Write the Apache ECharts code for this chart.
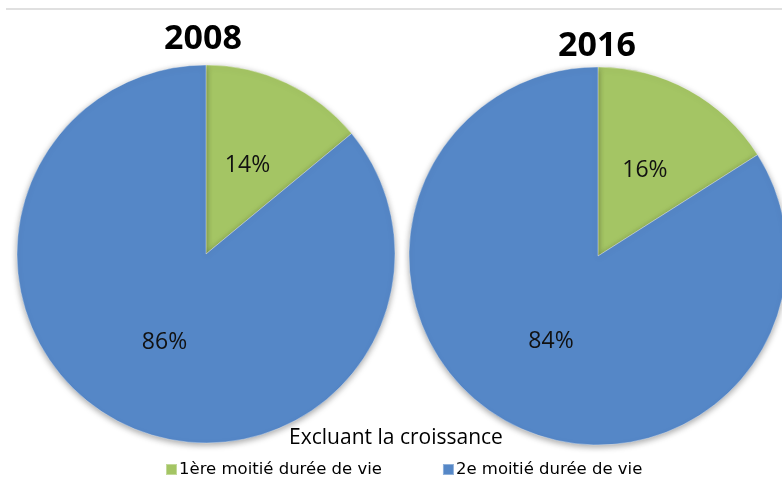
<!DOCTYPE html>
<html>
<head>
<meta charset="utf-8">
<script src="https://cdn.jsdelivr.net/npm/echarts@6/dist/echarts.min.js"></script>
<style>
  html, body { margin: 0; padding: 0; background: #fff; }
  #chart { width: 782px; height: 487px; }
</style>
</head>
<body>
<div id="chart"></div>
<script>
// données
const categories = ["1ère moitié durée de vie", "2e moitié durée de vie"];
const years = ["2008", "2016"];
const values2008 = [14, 86];
const values2016 = [16, 84];
const colors = ["#a4c564", "#5587c7"];

const chart = echarts.init(document.getElementById("chart"));

const pieSeries = (name, values, center) => ({
  name: name,
  type: "pie",
  center: center,
  radius: 189,
  startAngle: 90,
  clockwise: true,
  animation: false,
  label: {
    show: true,
    position: "inside",
    formatter: "{c}%",
    color: "#111",
    fontSize: 23,
    fontFamily: "Open Sans",
  },
  labelLine: { show: false },
  itemStyle: {
    borderColor: "rgba(255,255,255,0.35)",
    borderWidth: 1,
    shadowBlur: 6,
    shadowColor: "rgba(0,0,0,0.35)",
    shadowOffsetY: 2,
  },
  emphasis: { disabled: true },
  data: values.map((v, i) => ({ name: categories[i], value: v })),
});

const option = {
  backgroundColor: "#fff",
  color: colors,
  title: [
    {
      text: years[0],
      left: 203, top: 22,
      padding: 0,
      textAlign: "center",
      textStyle: { fontFamily: "Open Sans", fontSize: 34, fontWeight: "bold", color: "#000" },
    },
    {
      text: years[1],
      left: 597, top: 29,
      padding: 0,
      textAlign: "center",
      textStyle: { fontFamily: "Open Sans", fontSize: 34, fontWeight: "bold", color: "#000" },
    },
    {
      text: "Excluant la croissance",
      left: 396, top: 428,
      padding: 0,
      textAlign: "center",
      textStyle: { fontFamily: "Open Sans", fontSize: 21, fontWeight: 500, color: "#000" },
    },
  ],
  legend: {
    data: categories,
    left: 160,
    top: 456,
    itemGap: 60,
    itemWidth: 11,
    itemHeight: 11,
    icon: "rect",
    textStyle: { fontFamily: "DejaVu Sans", fontSize: 16.5, color: "#000", padding: [0, 0, 0, -3] },
  },
  graphic: [
    {
      type: "line",
      shape: { x1: 6, y1: 9, x2: 782, y2: 9 },
      style: { stroke: "#e0e0e0", lineWidth: 2 },
    },
  ],
  series: [
    pieSeries(years[0], values2008, [206, 254]),
    pieSeries(years[1], values2016, [598, 256]),
  ],
};

chart.setOption(option);
</script>
</body>
</html>
